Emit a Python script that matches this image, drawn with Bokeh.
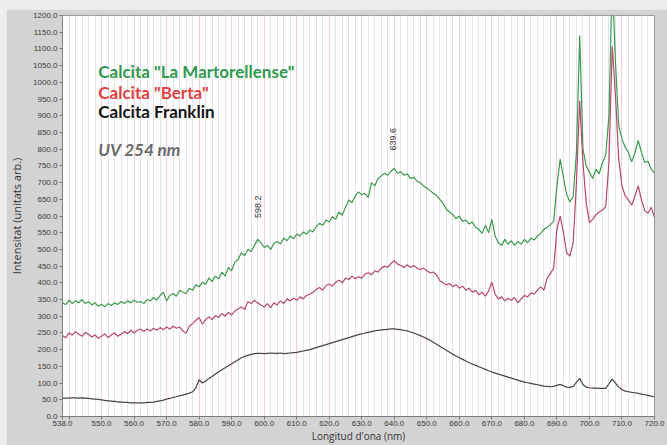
from bokeh.plotting import figure
from bokeh.models import (Range1d, FixedTicker, Grid, Label, NumeralTickFormatter)
from bokeh.layouts import column
from bokeh.embed import file_html
from bokeh.resources import INLINE

# Wavelength grid (nm), 1 nm step
wavelength = list(range(538, 721))

# Calcita "La Martorellense"
martorellense = [
    340, 335, 348, 338, 346, 340, 350, 338, 344, 334,   # 538-547
    340, 330, 336, 328, 338, 332, 340, 335, 344, 338,   # 548-557
    346, 340, 348, 342, 344, 338, 350, 346, 356, 348,   # 558-567
    362, 372, 346, 362, 368, 360, 378, 372, 368, 384,   # 568-577
    378, 394, 388, 402, 396, 414, 404, 420, 412, 432,   # 578-587
    420, 446, 436, 462, 470, 490, 482, 500, 494, 512,   # 588-597
    530, 520, 506, 512, 500, 518, 524, 516, 534, 526,   # 598-607
    540, 532, 546, 540, 552, 546, 558, 552, 568, 578,   # 608-617
    572, 588, 582, 598, 590, 612, 602, 626, 648, 640,   # 618-627
    660, 672, 664, 668, 656, 700, 690, 712, 720, 728,   # 628-637
    722, 734, 742, 728, 732, 722, 726, 712, 716, 704,   # 638-647
    700, 690, 684, 676, 668, 662, 650, 638, 620, 612,   # 648-657
    604, 592, 600, 584, 588, 576, 582, 566, 560, 548,   # 658-667
    572, 550, 590, 540, 520, 512, 530, 516, 526, 512,   # 668-677
    524, 516, 530, 520, 534, 528, 540, 548, 560, 566,   # 678-687
    574, 584, 690, 770, 716, 664, 642, 658, 790, 1140,  # 688-697
    800, 750, 730, 712, 740, 726, 760, 782, 900, 1310,  # 698-707
    1060, 870, 830, 806, 790, 762, 790, 826, 790, 760,  # 708-717
    764, 740, 728,                                      # 718-720
]

# Calcita "Berta"
berta = [
    242, 236, 250, 244, 254, 246, 240, 252, 246, 238,   # 538-547
    244, 234, 240, 248, 236, 244, 250, 240, 246, 254,   # 548-557
    248, 258, 250, 258, 262, 254, 262, 256, 264, 258,   # 558-567
    266, 260, 268, 262, 270, 264, 268, 256, 250, 270,   # 568-577
    278, 288, 296, 276, 290, 298, 290, 302, 296, 308,   # 578-587
    300, 312, 304, 316, 322, 328, 320, 344, 338, 348,   # 588-597
    340, 334, 328, 338, 326, 340, 334, 346, 338, 352,   # 598-607
    346, 354, 348, 358, 352, 362, 366, 372, 380, 386,   # 608-617
    378, 392, 396, 390, 402, 408, 400, 414, 410, 420,   # 618-627
    412, 418, 414, 426, 430, 424, 436, 432, 444, 450,   # 628-637
    446, 458, 466, 456, 452, 446, 454, 446, 452, 444,   # 638-647
    440, 444, 436, 430, 432, 424, 406, 400, 394, 398,   # 648-657
    388, 394, 384, 390, 378, 384, 372, 378, 364, 372,   # 658-667
    360, 376, 402, 366, 352, 358, 346, 354, 348, 356,   # 668-677
    340, 352, 362, 358, 370, 366, 378, 388, 378, 414,   # 678-687
    428, 444, 560, 600, 550, 490, 480, 520, 700, 945,   # 688-697
    760, 640, 580, 590, 604, 612, 618, 628, 760, 1108,  # 698-707
    960, 770, 690, 660, 648, 632, 660, 690, 648, 616,   # 708-717
    608, 626, 596,                                      # 718-720
]

# Calcita Franklin
franklin = [
    54, 55, 55, 56, 56, 55, 56, 55, 54, 53,             # 538-547
    52, 51, 50, 48, 47, 46, 45, 44, 43, 42,             # 548-557
    42, 41, 41, 41, 41, 41, 42, 42, 43, 45,             # 558-567
    47, 49, 52, 54, 57, 59, 62, 64, 67, 70,             # 568-577
    74, 86, 110, 100, 106, 114, 120, 127, 134, 140,     # 578-587
    146, 152, 158, 164, 170, 176, 180, 183, 186, 188,   # 588-597
    189, 189, 188, 189, 190, 189, 189, 190, 188, 189,   # 598-607
    190, 191, 192, 194, 196, 198, 200, 203, 206, 209,   # 608-617
    212, 215, 218, 221, 224, 227, 230, 233, 236, 239,   # 618-627
    242, 245, 247, 250, 252, 254, 256, 258, 259, 260,   # 628-637
    261, 262, 262, 261, 260, 258, 256, 253, 250, 246,   # 638-647
    242, 238, 233, 228, 222, 216, 210, 204, 198, 192,   # 648-657
    186, 181, 176, 171, 166, 161, 157, 153, 149, 145,   # 658-667
    141, 137, 133, 130, 127, 124, 121, 118, 115, 112,   # 668-677
    109, 106, 103, 101, 99, 97, 95, 93, 91, 90,         # 678-687
    89, 90, 93, 96, 92, 88, 87, 90, 102, 114,           # 688-697
    96, 88, 86, 85, 85, 84, 84, 84, 98, 112,            # 698-707
    100, 88, 80, 76, 74, 72, 71, 69, 67, 65,            # 708-717
    63, 61, 59,                                         # 718-720
]

series_names = ['Calcita "La Martorellense"', 'Calcita "Berta"', "Calcita Franklin"]
series_colors = ["#3c9a4c", "#b8476c", "#454545"]
legend_colors = ["#2f9a4f", "#e0403f", "#151515"]

# Peak annotations (wavelength, intensity at which the label sits)
peak_labels = ["598.2", "639.6"]
peak_x = [598.2, 639.6]
peak_y = [628, 830]

x_ticks = [538] + list(range(540, 721, 10))
y_ticks = list(range(0, 1201, 50))

X_MIN, X_MAX = 538, 720
Y_MIN, Y_MAX = 0, 1200

p = figure(width=661, height=436, margin=(9, 0, 0, 6),
           output_backend="svg", toolbar_location=None,
           x_range=Range1d(X_MIN, X_MAX), y_range=Range1d(Y_MIN, Y_MAX),
           min_border_left=56, min_border_right=13,
           min_border_top=6, min_border_bottom=27)

p.background_fill_color = "white"
p.border_fill_color = "#d3d3d3"
p.outline_line_color = "#9a9a9a"
p.outline_line_width = 1

# vertical grid: faint lines every 2 nm, pink lines every 10 nm
p.xgrid.visible = False
p.ygrid.visible = False
minor_positions = [v for v in range(540, 721, 2) if v % 10 != 0]
major_positions = list(range(540, 721, 10))
p.add_layout(Grid(dimension=0, ticker=FixedTicker(ticks=minor_positions),
                  grid_line_color="#e4e2ea", grid_line_width=1))
p.add_layout(Grid(dimension=0, ticker=FixedTicker(ticks=major_positions),
                  grid_line_color="#f4cfd8", grid_line_width=1))

for values, color in zip([martorellense, berta, franklin], series_colors):
    p.line(wavelength, values, line_color=color, line_width=1.2)

# axes
tick_font = "Liberation Sans"
p.xaxis.ticker = FixedTicker(ticks=x_ticks)
p.xaxis.major_label_overrides = {538: "538.0", 540: ""}
p.xaxis.formatter = NumeralTickFormatter(format="0.0")
p.yaxis.ticker = FixedTicker(ticks=y_ticks)
p.yaxis.formatter = NumeralTickFormatter(format="0.0")
for ax in (p.xaxis, p.yaxis):
    ax.major_label_text_font = tick_font
    ax.major_label_text_font_size = "8px"
    ax.major_label_text_color = "#3a3a3a"
    ax.axis_line_color = "#7a7a7a"
    ax.major_tick_line_color = "#7a7a7a"
    ax.major_tick_in = 0
    ax.major_tick_out = 3
    ax.minor_tick_line_color = None
    ax.major_label_standoff = 2
p.xaxis.major_label_standoff = 1

p.yaxis.axis_label = "Intensitat (unitats arb.)"
p.yaxis.axis_label_text_font = "Open Sans"
p.yaxis.axis_label_text_font_size = "11px"
p.yaxis.axis_label_text_font_style = "normal"
p.yaxis.axis_label_text_color = "#333333"
p.yaxis.axis_label_standoff = 6

p.xaxis.axis_label = "Longitud d'ona (nm)"
p.xaxis.axis_label_text_font = "Open Sans"
p.xaxis.axis_label_text_font_size = "10px"
p.xaxis.axis_label_text_font_style = "normal"
p.xaxis.axis_label_text_color = "#333333"
p.xaxis.axis_label_standoff = 0

# in-plot legend
legend_x = 549
legend_y = [1031, 969, 913]
for name, color, y in zip(series_names, legend_colors, legend_y):
    p.add_layout(Label(x=legend_x, y=y, text=name, text_font="Lato",
                       text_font_size="17px", text_font_style="bold",
                       text_color=color, text_baseline="middle"))
p.add_layout(Label(x=legend_x, y=800, text="UV 254 nm", text_font="Lato",
                   text_font_size="17px", text_font_style="bold italic",
                   text_color="#6a6a6a", text_baseline="middle"))

for txt, xv, yv in zip(peak_labels, peak_x, peak_y):
    p.add_layout(Label(x=xv, y=yv, text=txt, angle=1.5708,
                       text_font="Liberation Sans", text_font_size="9px",
                       text_color="#333333", text_align="center",
                       text_baseline="middle"))

# outer panel
layout = column(p, width=667, height=445,
                styles={"background-color": "#ededed", "overflow": "hidden"})

with open("out.html", "w") as f:
    f.write(file_html(layout, INLINE))
